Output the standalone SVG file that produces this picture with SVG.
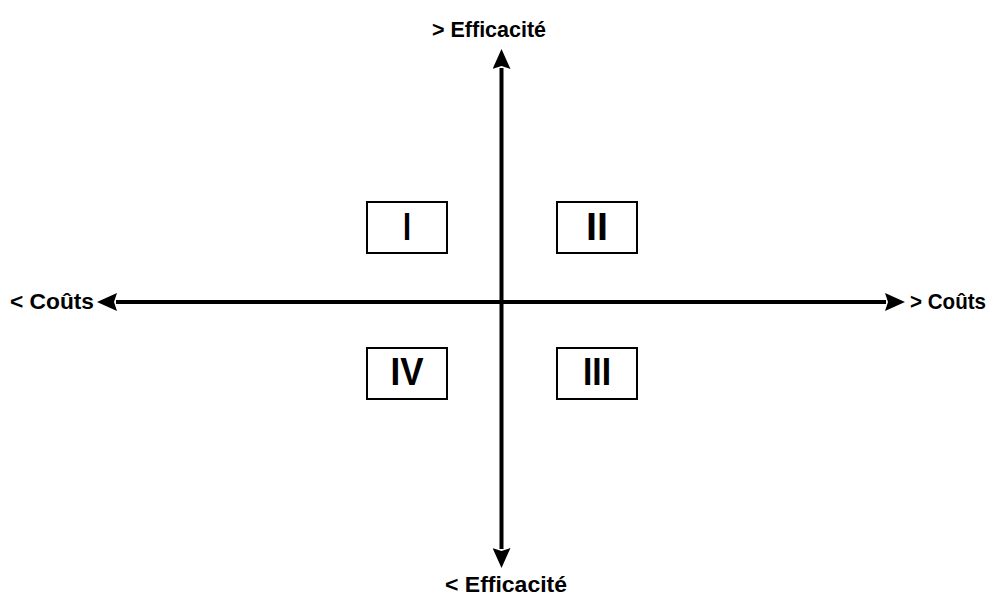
<svg xmlns="http://www.w3.org/2000/svg" width="993" height="598" viewBox="0 0 993 598">
<style>
.lbl{font-family:"Liberation Sans",Arial,sans-serif;font-weight:bold;font-size:22px;fill:#000}
.num{font-family:"Liberation Sans",Arial,sans-serif;font-weight:bold;font-size:38px;fill:#000;text-anchor:middle}
.box{fill:#fff;stroke:#000;stroke-width:2}
.axis{stroke:#000;stroke-width:4;fill:none}
</style>
<defs>
<marker id="ah" markerUnits="userSpaceOnUse" markerWidth="20" markerHeight="18" refX="1" refY="9" orient="auto-start-reverse" viewBox="0 0 20 18">
<polygon points="0,0 20,9 0,18 3,9" fill="#000"/>
</marker>
</defs>
<rect width="993" height="598" fill="#fff"/>
<g id="connectors">
<line class="axis" x1="501.5" y1="549" x2="501.5" y2="68" marker-end="url(#ah)" marker-start="url(#ah)"/>
<line class="axis" x1="116" y1="302" x2="886" y2="302" marker-end="url(#ah)" marker-start="url(#ah)"/>
</g>
<g id="label-top"><text class="lbl" x="432" y="37" textLength="114" lengthAdjust="spacingAndGlyphs">&gt; Efficacité</text></g>
<g id="label-bottom"><text class="lbl" x="445" y="592" textLength="122" lengthAdjust="spacingAndGlyphs">&lt; Efficacité</text></g>
<g id="label-left"><text class="lbl" x="10" y="309" textLength="84" lengthAdjust="spacingAndGlyphs">&lt;  Coûts</text></g>
<g id="label-right"><text class="lbl" x="910" y="309" textLength="76" lengthAdjust="spacingAndGlyphs">&gt; Coûts</text></g>
<g id="q1"><rect class="box" x="367" y="202" width="80" height="51"/><text class="num" x="407" y="240" textLength="8" lengthAdjust="spacingAndGlyphs">I</text></g>
<g id="q2"><rect class="box" x="557" y="202" width="80" height="51"/><text class="num" x="597" y="240" textLength="22" lengthAdjust="spacingAndGlyphs">II</text></g>
<g id="q4"><rect class="box" x="367" y="348" width="80" height="51"/><text class="num" x="407" y="385" textLength="33" lengthAdjust="spacingAndGlyphs">IV</text></g>
<g id="q3"><rect class="box" x="557" y="348" width="80" height="51"/><text class="num" x="597" y="385" textLength="28" lengthAdjust="spacingAndGlyphs">III</text></g>
</svg>
